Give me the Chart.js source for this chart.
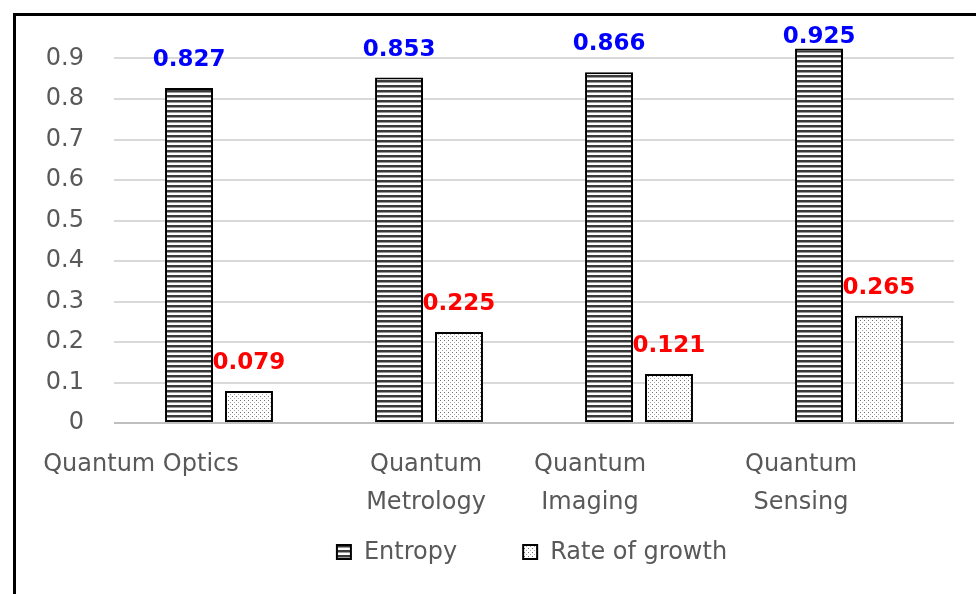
<!DOCTYPE html>
<html>
<head>
<meta charset="utf-8">
<script src="https://cdn.jsdelivr.net/npm/chart.js@4.4.1/dist/chart.umd.min.js"></script>
<style>
    html, body {
        margin: 0;
        padding: 0;
        background: #ffffff;
    }
    #wrap {
        position: relative;
        width: 976px;
        height: 594px;
        overflow: hidden;
    }
    #chart {
        position: absolute;
        left: 0;
        top: 0;
    }
    #frame {
        position: absolute;
        left: 13px;
        top: 13px;
        width: 980px;
        height: 600px;
        border-left: 3px solid #000;
        border-top: 3px solid #000;
        pointer-events: none;
    }
</style>
</head>
<body>
<div id="wrap">
    <canvas id="chart" width="976" height="594"></canvas>
    <div id="frame"></div>
</div>
<script>
const categories = [
    ["Quantum Optics"],
    ["Quantum", "Metrology"],
    ["Quantum", "Imaging"],
    ["Quantum", "Sensing"],
];
const entropyValues = [0.827, 0.853, 0.866, 0.925];
const growthValues = [0.079, 0.225, 0.121, 0.265];
const seriesNames = ["Entropy", "Rate of growth"];
const yTicks = [0, 0.1, 0.2, 0.3, 0.4, 0.5, 0.6, 0.7, 0.8, 0.9];

// Excel pushed the category labels around a bit, so nudge each one
const LABEL_NUDGE = [-78, -3, -49, -48];

const FONT = "'DejaVu Sans', sans-serif";
const TEXT_COLOR = "#595959";

function stripePattern() {
    const tile = document.createElement("canvas");
    tile.width = 4;
    tile.height = 5;
    const c = tile.getContext("2d");
    c.fillStyle = "#ffffff";
    c.fillRect(0, 0, 4, 5);
    c.fillStyle = "#3a3a3a";
    c.fillRect(0, 0, 4, 2);
    c.fillStyle = "#9a9a9a";
    c.fillRect(0, 2, 4, 1);
    return c.createPattern(tile, "repeat");
}

function dotPattern() {
    const tile = document.createElement("canvas");
    tile.width = 4;
    tile.height = 4;
    const c = tile.getContext("2d");
    c.fillStyle = "#ffffff";
    c.fillRect(0, 0, 4, 4);
    c.fillStyle = "#707070";
    c.fillRect(0, 0, 1, 1);
    c.fillStyle = "#a8a8a8";
    c.fillRect(2, 2, 1, 1);
    return c.createPattern(tile, "repeat");
}

const patterns = [stripePattern(), dotPattern()];
const labelColors = ["#0000ff", "#ff0000"];

const valueLabels = {
    id: "valueLabels",
    afterDatasetsDraw(chart) {
        const ctx = chart.ctx;
        ctx.save();
        ctx.font = "bold 23px " + FONT;
        ctx.textAlign = "center";
        ctx.textBaseline = "middle";
        chart.data.datasets.forEach((ds, di) => {
            const meta = chart.getDatasetMeta(di);
            ctx.fillStyle = labelColors[di];
            meta.data.forEach((bar, i) => {
                const y = Math.max(bar.y - 28, 37);
                ctx.fillText(ds.data[i].toFixed(3), bar.x, y);
            });
        });
        ctx.restore();
    },
};

const categoryLabels = {
    id: "categoryLabels",
    afterDraw(chart) {
        const ctx = chart.ctx;
        const xScale = chart.scales.x;
        const base = chart.chartArea.bottom;
        ctx.save();
        ctx.font = "24px " + FONT;
        ctx.fillStyle = TEXT_COLOR;
        ctx.textAlign = "center";
        ctx.textBaseline = "middle";
        categories.forEach((lines, i) => {
            const x = xScale.getPixelForValue(i) + LABEL_NUDGE[i];
            lines.forEach((line, li) => {
                ctx.fillText(line, x, base + 42 + li * 38);
            });
        });
        ctx.restore();
    },
};

const patternLegend = {
    id: "patternLegend",
    afterDraw(chart) {
        const ctx = chart.ctx;
        const box = 14;
        const gapText = 13;
        const gapItem = 66;
        ctx.save();
        ctx.font = "24px " + FONT;
        ctx.textBaseline = "middle";
        const widths = seriesNames.map((n) => box + gapText + ctx.measureText(n).width);
        const total = widths.reduce((a, b) => a + b, 0) + gapItem * (widths.length - 1);
        let x = 532 - total / 2;
        const y = 552;
        seriesNames.forEach((name, i) => {
            ctx.fillStyle = patterns[i];
            ctx.fillRect(x, y - box / 2, box, box);
            ctx.strokeStyle = "#000000";
            ctx.lineWidth = 2;
            ctx.strokeRect(x, y - box / 2, box, box);
            ctx.fillStyle = TEXT_COLOR;
            ctx.textAlign = "left";
            ctx.fillText(name, x + box + gapText, y + 1);
            x += widths[i] + gapItem;
        });
        ctx.restore();
    },
};

new Chart(document.getElementById("chart").getContext("2d"), {
    type: "bar",
    data: {
        labels: categories,
        datasets: [
            {
                label: seriesNames[0],
                data: entropyValues,
                backgroundColor: patterns[0],
                borderColor: "#000000",
                borderWidth: 2,
                borderSkipped: false,
            },
            {
                label: seriesNames[1],
                data: growthValues,
                backgroundColor: patterns[1],
                borderColor: "#000000",
                borderWidth: 2,
                borderSkipped: false,
            },
        ],
    },
    options: {
        responsive: false,
        animation: false,
        devicePixelRatio: 1,
        categoryPercentage: 0.571,
        barPercentage: 0.8,
        layout: {
            padding: { top: 18, right: 22, bottom: 171, left: 0 },
        },
        plugins: {
            legend: { display: false },
            tooltip: { enabled: false },
        },
        scales: {
            x: {
                grid: { display: false },
                border: { display: false },
                ticks: { display: false },
                afterFit: (scale) => {
                    scale.height = 0;
                    scale.paddingTop = 0;
                    scale.paddingBottom = 0;
                },
            },
            y: {
                min: 0,
                max: 1,
                afterFit: (scale) => {
                    scale.width = 114;
                    scale.paddingTop = 0;
                    scale.paddingBottom = 0;
                },
                afterBuildTicks: (scale) => {
                    scale.ticks = yTicks.map((v) => ({ value: v }));
                },
                border: { display: false },
                grid: {
                    color: (ctx) => (ctx.tick && ctx.tick.value === 0 ? "#bfbfbf" : "#d9d9d9"),
                    lineWidth: 2,
                    drawTicks: false,
                },
                ticks: {
                    color: TEXT_COLOR,
                    padding: 30,
                    font: { family: FONT, size: 24 },
                    callback: (v) => String(Math.round(v * 10) / 10),
                },
            },
        },
    },
    plugins: [valueLabels, categoryLabels, patternLegend],
});
</script>
</body>
</html>
